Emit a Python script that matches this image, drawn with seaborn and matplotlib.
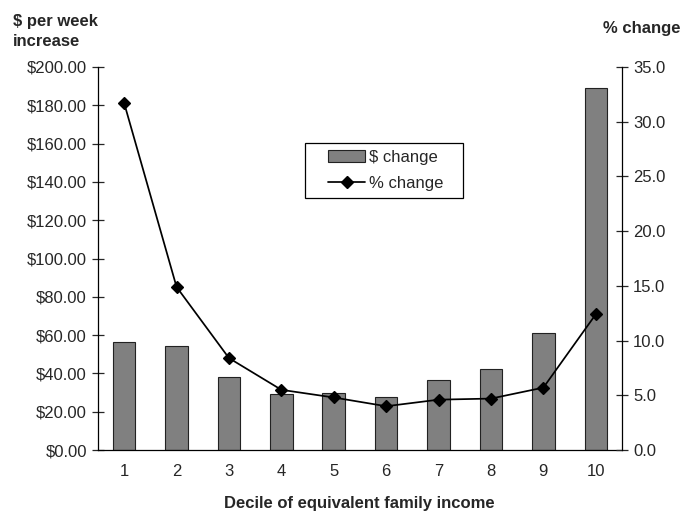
import matplotlib
matplotlib.use("Agg")
import matplotlib.pyplot as plt
from matplotlib.ticker import FuncFormatter, FixedLocator, NullFormatter
from matplotlib.patches import Patch, Rectangle
from matplotlib.lines import Line2D
import numpy as np
import pandas as pd
import seaborn as sns

# Weekly increase by income decile
deciles = ["1", "2", "3", "4", "5", "6", "7", "8", "9", "10"]
dollar_change = [56.2, 54.1, 38.1, 29.0, 29.6, 27.8, 36.3, 42.2, 60.9, 189.0]
pct_change = [31.7, 14.9, 8.4, 5.5, 4.8, 4.0, 4.6, 4.7, 5.7, 12.4]

df = pd.DataFrame({"decile": deciles, "dollar": dollar_change, "pct": pct_change})

sns.set_style("white")
plt.rcParams["font.family"] = ["Liberation Sans", "DejaVu Sans"]

W, H = 685, 513
fig = plt.figure(figsize=(W / 100, H / 100), dpi=100)
ax = fig.add_axes([0.143, 0.1228, 0.765, 0.7466])

sns.barplot(data=df, x="decile", y="dollar", ax=ax, color="#808080",
            saturation=1, width=0.43, edgecolor="#222222", linewidth=0.8)

ax2 = ax.twinx()
sns.pointplot(data=df, x="decile", y="pct", ax=ax2, color="black",
              markers="D", markersize=6, linewidth=1.25)

ax.set_xlim(-0.5, 9.5)
ax.set_ylim(0, 200)
ax2.set_ylim(0, 35)
ax2.set_xlim(-0.5, 9.5)

ax.set_yticks(np.arange(0, 201, 20))
ax.yaxis.set_major_formatter(FuncFormatter(lambda v, p: f"${v:,.2f}"))
ax2.set_yticks(np.arange(0, 35.1, 5))
ax2.yaxis.set_major_formatter(FuncFormatter(lambda v, p: f"{v:.1f}"))

# category labels centred, tick marks on the boundaries
ax.set_xticks(range(len(deciles)))
ax.set_xticklabels(deciles)
ax.xaxis.set_minor_locator(FixedLocator(np.arange(-0.5, 10, 1.0)))
ax.xaxis.set_minor_formatter(NullFormatter())
ax.tick_params(axis="x", which="major", length=0, labelsize=12, pad=10)
ax.tick_params(axis="x", which="minor", length=8, direction="inout", width=0.9, color="black")
ax.tick_params(axis="y", length=8, direction="inout", width=0.9, labelsize=12, pad=4)
ax2.tick_params(axis="y", length=8, direction="inout", width=0.9, labelsize=12, pad=4)

for a in (ax, ax2):
    a.set_xlabel("")
    a.set_ylabel("")
    a.spines["top"].set_visible(False)
    a.grid(False)
    for s in ("left", "right", "bottom"):
        a.spines[s].set_color("black")
        a.spines[s].set_linewidth(0.9)
ax.spines["right"].set_visible(False)
ax2.spines["left"].set_visible(False)
ax2.spines["bottom"].set_visible(False)
ax.set_facecolor("none")

fig.text(0.019, 0.972, "$ per week\nincrease", fontsize=12, fontweight="bold",
         ha="left", va="top", linespacing=1.35)
fig.text(0.993, 0.945, "% change", fontsize=12, fontweight="bold", ha="right", va="center")
fig.text(0.525, 0.018, "Decile of equivalent family income", fontsize=12,
         fontweight="bold", ha="center", va="center")

# legend box
bx0, by0, bx1, by1 = 305, 143, 463, 198
fig.patches.append(Rectangle((bx0 / W, 1 - by1 / H), (bx1 - bx0) / W, (by1 - by0) / H,
                             transform=fig.transFigure, facecolor="white",
                             edgecolor="black", linewidth=0.9, zorder=5))
handles = [Patch(facecolor="#808080", edgecolor="#222222", linewidth=0.8),
           Line2D([0], [0], color="black", marker="D", markersize=6, linewidth=1.25)]
leg = fig.legend(handles, ["$ change", "% change"], loc="center",
                 bbox_to_anchor=((bx0 + bx1) / 2 / W + 0.003, 1 - (by0 + by1) / 2 / H),
                 bbox_transform=fig.transFigure, frameon=False, fontsize=12,
                 handlelength=2.2, handletextpad=0.25, borderpad=0, labelspacing=0.68)
leg.set_zorder(6)

fig.savefig("out.png", dpi=100, facecolor="white")
